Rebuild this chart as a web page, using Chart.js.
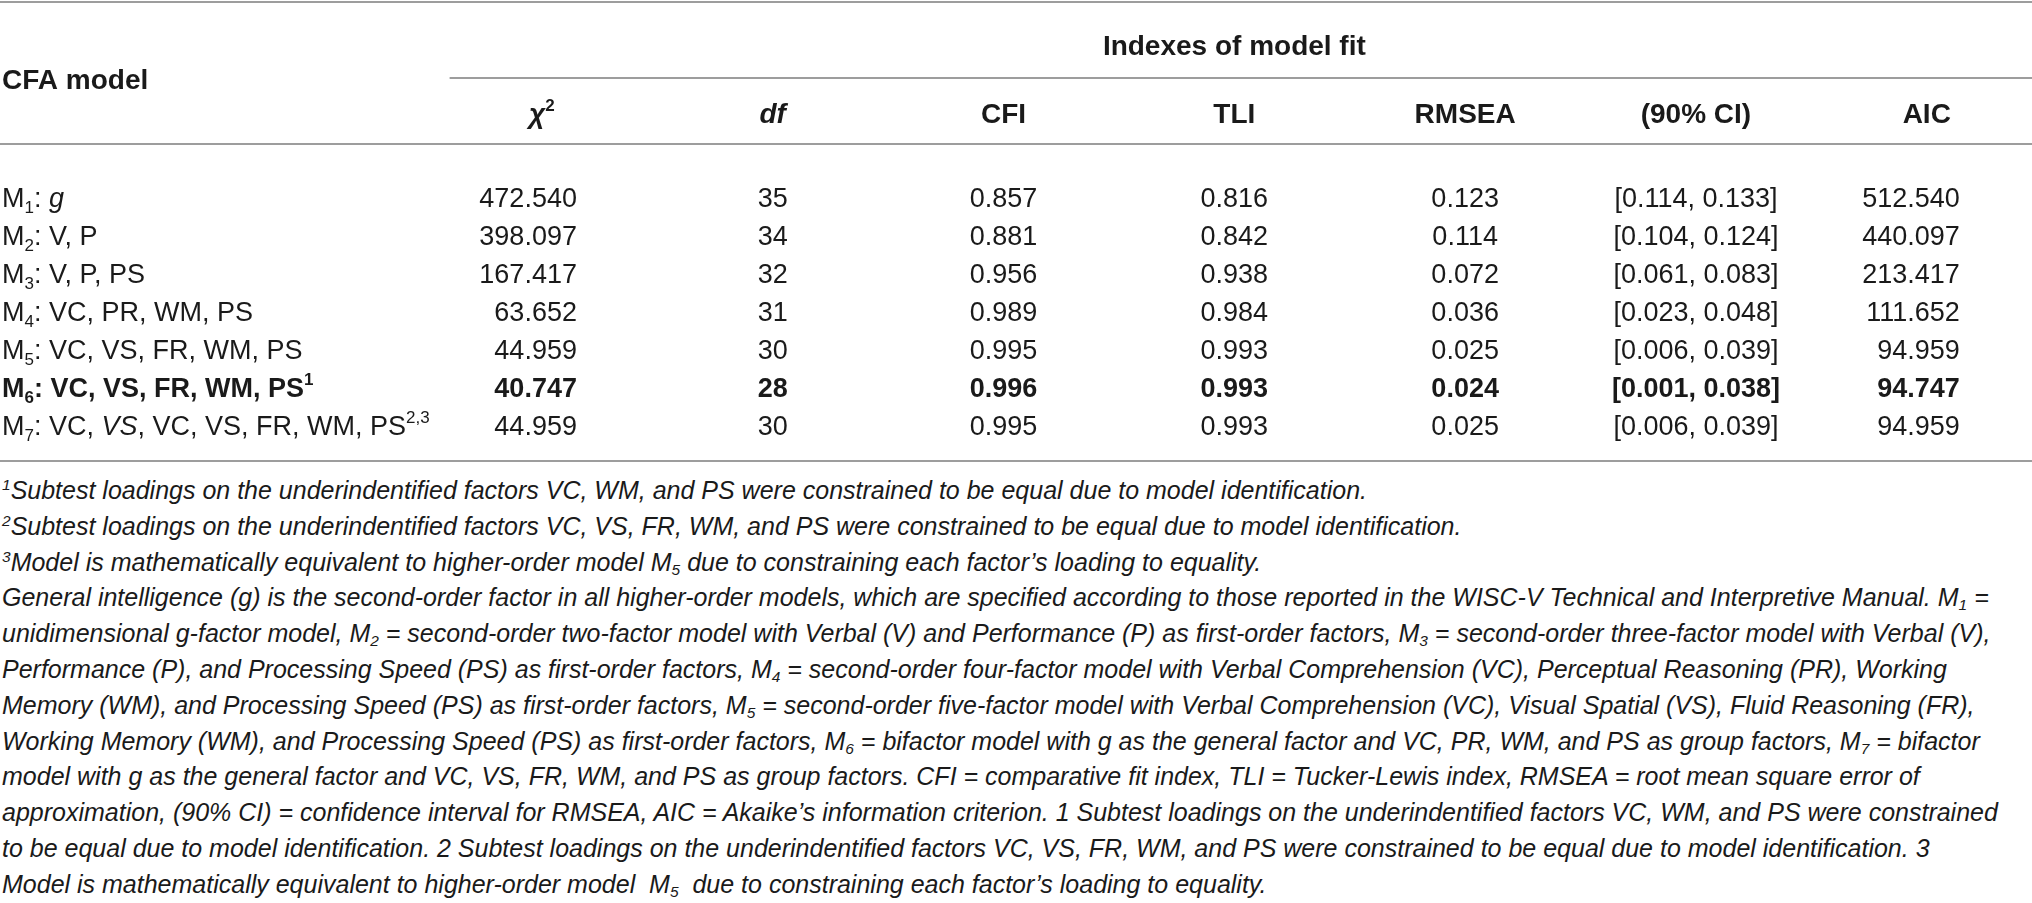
<!DOCTYPE html>
<html lang="en">
    <head>
        <meta charset="UTF-8" />
        <title>Indexes of model fit</title>
        <script src="https://cdn.jsdelivr.net/npm/chart.js@4.4.1/dist/chart.umd.min.js"></script>
        <style>
            body {
                margin: 0;
                background: #ffffff;
                width: 2032px;
                overflow: hidden;
            }
            .table-box {
                position: relative;
                width: 2032px;
                height: 470px;
            }
            .notes {
                font-family: "Liberation Sans", Arial, Helvetica, sans-serif;
                font-style: italic;
                font-size: 25px;
                line-height: 35.8px;
                color: #1a1a1a;
                padding-left: 2px;
                padding-top: 3px;
            }
            .notes div {
                white-space: nowrap;
            }
            .notes sup,
            .notes sub {
                font-size: 0.62em;
                line-height: 0;
            }
            .notes sup {
                vertical-align: 0.55em;
            }
            .notes sub {
                vertical-align: -0.25em;
            }
        </style>
    </head>
    <body>
        <div class="table-box">
            <canvas id="fitTable"></canvas>
        </div>

        <div class="notes">
            <div><sup>1</sup>Subtest loadings on the underindentified factors VC, WM, and PS were constrained to be equal due to model identification.</div>
            <div><sup>2</sup>Subtest loadings on the underindentified factors VC, VS, FR, WM, and PS were constrained to be equal due to model identification.</div>
            <div><sup>3</sup>Model is mathematically equivalent to higher-order model M<sub>5</sub> due to constraining each factor’s loading to equality.</div>
            <div>General intelligence (g) is the second-order factor in all higher-order models, which are specified according to those reported in the WISC-V Technical and Interpretive Manual. M<sub>1</sub> =</div>
            <div>unidimensional g-factor model, M<sub>2</sub> = second-order two-factor model with Verbal (V) and Performance (P) as first-order factors, M<sub>3</sub> = second-order three-factor model with Verbal (V),</div>
            <div>Performance (P), and Processing Speed (PS) as first-order factors, M<sub>4</sub> = second-order four-factor model with Verbal Comprehension (VC), Perceptual Reasoning (PR), Working</div>
            <div>Memory (WM), and Processing Speed (PS) as first-order factors, M<sub>5</sub> = second-order five-factor model with Verbal Comprehension (VC), Visual Spatial (VS), Fluid Reasoning (FR),</div>
            <div>Working Memory (WM), and Processing Speed (PS) as first-order factors, M<sub>6</sub> = bifactor model with g as the general factor and VC, PR, WM, and PS as group factors, M<sub>7</sub> = bifactor</div>
            <div>model with g as the general factor and VC, VS, FR, WM, and PS as group factors. CFI = comparative fit index, TLI = Tucker-Lewis index, RMSEA = root mean square error of</div>
            <div>approximation, (90% CI) = confidence interval for RMSEA, AIC = Akaike’s information criterion. 1 Subtest loadings on the underindentified factors VC, WM, and PS were constrained</div>
            <div>to be equal due to model identification. 2 Subtest loadings on the underindentified factors VC, VS, FR, WM, and PS were constrained to be equal due to model identification. 3</div>
            <div>Model is mathematically equivalent to higher-order model&nbsp; M<sub>5</sub>&nbsp; due to constraining each factor’s loading to equality.</div>
        </div>

        <script>
            // Table data (markup: _{sub}  ^{sup}  *italic*)
            const COLUMN_HEADERS = ["CFA model", "*χ*^{2}", "*df*", "CFI", "TLI", "RMSEA", "(90% CI)", "AIC"];
            const GROUP_HEADER = "Indexes of model fit";
            const MODELS = [
                "M_{1}: *g*",
                "M_{2}: V, P",
                "M_{3}: V, P, PS",
                "M_{4}: VC, PR, WM, PS",
                "M_{5}: VC, VS, FR, WM, PS",
                "M_{6}: VC, VS, FR, WM, PS^{1}",
                "M_{7}: VC, *VS*, VC, VS, FR, WM, PS^{2,3}",
            ];
            const CHI_SQ = [472.54, 398.097, 167.417, 63.652, 44.959, 40.747, 44.959];
            const DF = [35, 34, 32, 31, 30, 28, 30];
            const CFI = [0.857, 0.881, 0.956, 0.989, 0.995, 0.996, 0.995];
            const TLI = [0.816, 0.842, 0.938, 0.984, 0.993, 0.993, 0.993];
            const RMSEA = [0.123, 0.114, 0.072, 0.036, 0.025, 0.024, 0.025];
            const CI_LOW = [0.114, 0.104, 0.061, 0.023, 0.006, 0.001, 0.006];
            const CI_HIGH = [0.133, 0.124, 0.083, 0.048, 0.039, 0.038, 0.039];
            const AIC = [512.54, 440.097, 213.417, 111.652, 94.959, 94.747, 94.959];
            const BOLD_ROW = 5; // preferred model

            const FONT = '"Liberation Sans", Arial, Helvetica, sans-serif';
            const TEXT_COLOR = "#1a1a1a";
            const RULE_COLOR = "#9d9d9d";
            const BODY_SIZE = 27;
            const HEAD_SIZE = 28;

            // scale ranges (columns are 0..7, rows are 0..6, header rows negative)
            const X_MIN = -1.348, X_MAX = 7.456;
            const Y_MIN = -5.184, Y_MAX = 7.184;

            const fmt3 = (v) => v.toFixed(3);

            const columns = [
                { cells: MODELS, align: "left", dx: 2 },
                { cells: CHI_SQ.map(fmt3), align: "right", dx: 35 },
                { cells: DF.map(String), align: "center", dx: 0 },
                { cells: CFI.map(fmt3), align: "center", dx: 0 },
                { cells: TLI.map(fmt3), align: "center", dx: 0 },
                { cells: RMSEA.map(fmt3), align: "center", dx: 0 },
                { cells: CI_LOW.map((lo, i) => "[" + fmt3(lo) + ", " + fmt3(CI_HIGH[i]) + "]"), align: "center", dx: 0 },
                { cells: AIC.map(fmt3), align: "right", dx: 33 },
            ];

            // split a marked-up string into runs
            function segments(str) {
                const out = [];
                const re = /_\{([^}]*)\}|\^\{([^}]*)\}|\*([^*]*)\*|([^_^*]+)/g;
                let m;
                while ((m = re.exec(str))) {
                    if (m[1] !== undefined) out.push({ t: m[1], k: "sub" });
                    else if (m[2] !== undefined) out.push({ t: m[2], k: "sup" });
                    else if (m[3] !== undefined) out.push({ t: m[3], k: "it" });
                    else out.push({ t: m[4], k: "n" });
                }
                return out;
            }

            function fontFor(k, size, bold) {
                const s = k === "sub" || k === "sup" ? Math.round(size * 0.62) : size;
                return (k === "it" ? "italic " : "") + (bold ? "bold " : "") + s + "px " + FONT;
            }

            function drawRich(ctx, str, x, y, align, size, bold) {
                const segs = segments(String(str));
                let w = 0;
                segs.forEach((s) => {
                    ctx.font = fontFor(s.k, size, bold);
                    s.w = ctx.measureText(s.t).width;
                    w += s.w;
                });
                let cx = align === "left" ? x : align === "right" ? x - w : x - w / 2;
                const base = y + size * 0.36;
                ctx.textAlign = "left";
                ctx.textBaseline = "alphabetic";
                segs.forEach((s) => {
                    ctx.font = fontFor(s.k, size, bold);
                    let by = base;
                    if (s.k === "sub") by = base + size * 0.22;
                    if (s.k === "sup") by = base - size * 0.42;
                    ctx.fillText(s.t, cx, by);
                    cx += s.w;
                });
            }

            const tablePlugin = {
                id: "tablePlugin",
                afterDatasetsDraw(chart) {
                    const ctx = chart.ctx;
                    const xs = chart.scales.x;
                    const ys = chart.scales.y;
                    const left = chart.chartArea.left;
                    const right = chart.chartArea.right;

                    ctx.save();
                    // rules
                    ctx.strokeStyle = RULE_COLOR;
                    ctx.lineWidth = 2;
                    const hline = (y, x0, x1) => {
                        ctx.beginPath();
                        ctx.moveTo(x0, y);
                        ctx.lineTo(x1, y);
                        ctx.stroke();
                    };
                    hline(ys.getPixelForValue(-5.13), left, right);
                    hline(ys.getPixelForValue(-3.13), xs.getPixelForValue(0.6), right);
                    hline(ys.getPixelForValue(-1.395), left, right);
                    hline(ys.getPixelForValue(MODELS.length - 0.05), left, right);

                    // headers
                    ctx.fillStyle = TEXT_COLOR;
                    drawRich(ctx, COLUMN_HEADERS[0], left + 2, ys.getPixelForValue(-3.1), "left", HEAD_SIZE, true);
                    drawRich(ctx, GROUP_HEADER, xs.getPixelForValue(4), ys.getPixelForValue(-4.0), "center", HEAD_SIZE, true);
                    for (let c = 1; c < COLUMN_HEADERS.length; c++) {
                        drawRich(ctx, COLUMN_HEADERS[c], xs.getPixelForValue(c), ys.getPixelForValue(-2.21), "center", HEAD_SIZE, true);
                    }

                    // cells, placed at each point element
                    chart.data.datasets.forEach((ds, c) => {
                        const col = columns[c];
                        chart.getDatasetMeta(c).data.forEach((el, r) => {
                            drawRich(ctx, col.cells[r], el.x + col.dx, el.y, col.align, BODY_SIZE, r === BOLD_ROW);
                        });
                    });
                    ctx.restore();
                },
            };

            new Chart(document.getElementById("fitTable"), {
                type: "scatter",
                data: {
                    datasets: columns.map((col, c) => ({
                        label: COLUMN_HEADERS[c],
                        data: col.cells.map((_, r) => ({ x: c === 0 ? X_MIN : c, y: r })),
                        pointRadius: 0,
                        pointHoverRadius: 0,
                    })),
                },
                options: {
                    responsive: true,
                    maintainAspectRatio: false,
                    animation: false,
                    events: [],
                    layout: { padding: 0 },
                    plugins: {
                        legend: { display: false },
                        tooltip: { enabled: false },
                    },
                    scales: {
                        x: { type: "linear", display: false, min: X_MIN, max: X_MAX },
                        y: { type: "linear", display: false, reverse: true, min: Y_MIN, max: Y_MAX },
                    },
                },
                plugins: [tablePlugin],
            });
        </script>
    </body>
</html>
